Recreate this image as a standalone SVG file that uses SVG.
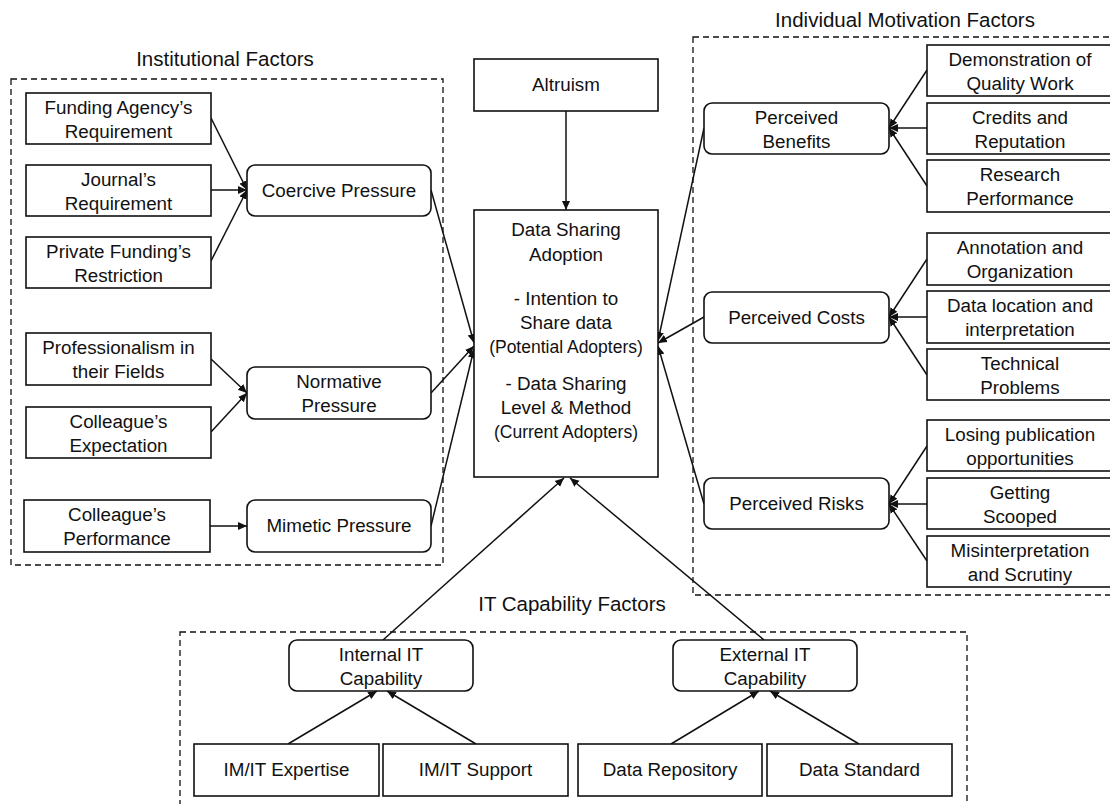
<svg xmlns="http://www.w3.org/2000/svg" width="1110" height="804" viewBox="0 0 1110 804">
<style>
text{font-family:"Liberation Sans",Arial,sans-serif;font-size:18.8px;fill:#111;text-anchor:middle}
.t{font-size:20.5px}
.s{font-size:17.5px}
.b{fill:#fff;stroke:#111;stroke-width:1.6}
.d{fill:none;stroke:#111;stroke-width:1.3;stroke-dasharray:6,4}
.c line{stroke:#111;stroke-width:1.5;marker-end:url(#ah)}
</style>
<defs>
<marker id="ah" markerUnits="userSpaceOnUse" markerWidth="10" markerHeight="10" refX="9" refY="5" orient="auto">
<path d="M0,1 L9,5 L0,9 Z" fill="#111"/>
</marker>
</defs>
<rect width="1110" height="804" fill="#fff"/>
<g id="groups">
<rect class="d" x="11" y="79" width="432" height="486"/>
<text class="t" x="225" y="66">Institutional Factors</text>
<rect class="d" x="693" y="37" width="430" height="558"/>
<text class="t" x="905" y="27">Individual Motivation Factors</text>
<rect class="d" x="180" y="632" width="787" height="190"/>
<text class="t" x="572" y="611">IT Capability Factors</text>
</g>
<g class="c" id="connectors">
<line x1="211" y1="118" x2="247" y2="190"/>
<line x1="211" y1="190" x2="247" y2="190"/>
<line x1="211" y1="261" x2="247" y2="190"/>
<line x1="211" y1="359" x2="247" y2="393"/>
<line x1="211" y1="432" x2="247" y2="393"/>
<line x1="210" y1="526" x2="247" y2="526"/>
<line x1="431" y1="190" x2="474" y2="343"/>
<line x1="431" y1="393" x2="474" y2="346"/>
<line x1="431" y1="526" x2="474" y2="349"/>
<line x1="566" y1="111" x2="566" y2="210"/>
<line x1="704" y1="128" x2="658" y2="341"/>
<line x1="704" y1="317" x2="658" y2="343"/>
<line x1="704" y1="504" x2="658" y2="346"/>
<line x1="927" y1="70" x2="889" y2="128"/>
<line x1="927" y1="128" x2="889" y2="128"/>
<line x1="927" y1="186" x2="889" y2="128"/>
<line x1="927" y1="259" x2="889" y2="317"/>
<line x1="927" y1="317" x2="889" y2="317"/>
<line x1="927" y1="375" x2="889" y2="317"/>
<line x1="927" y1="446" x2="889" y2="504"/>
<line x1="927" y1="504" x2="889" y2="504"/>
<line x1="927" y1="561" x2="889" y2="504"/>
<line x1="383" y1="640" x2="564" y2="478"/>
<line x1="764" y1="640" x2="570" y2="478"/>
<line x1="288" y1="744" x2="377" y2="691"/>
<line x1="476" y1="744" x2="387" y2="691"/>
<line x1="671" y1="744" x2="759" y2="691"/>
<line x1="859" y1="744" x2="770" y2="691"/>
</g>
<g id="n-funding"><rect class="b" x="26" y="93" width="185" height="51"/><text x="118.5" y="114">Funding Agency’s</text><text x="118.5" y="138">Requirement</text></g>
<g id="n-journal"><rect class="b" x="26" y="165" width="185" height="51"/><text x="118.5" y="186">Journal’s</text><text x="118.5" y="210">Requirement</text></g>
<g id="n-private"><rect class="b" x="26" y="237" width="185" height="51"/><text x="118.5" y="258">Private Funding’s</text><text x="118.5" y="282">Restriction</text></g>
<g id="n-prof"><rect class="b" x="26" y="333" width="185" height="52"/><text x="118.5" y="354">Professionalism in</text><text x="118.5" y="378">their Fields</text></g>
<g id="n-expect"><rect class="b" x="26" y="407" width="185" height="51"/><text x="118.5" y="428">Colleague’s</text><text x="118.5" y="452">Expectation</text></g>
<g id="n-perf"><rect class="b" x="24" y="500" width="186" height="52"/><text x="117" y="521">Colleague’s</text><text x="117" y="545">Performance</text></g>
<g id="n-coercive"><rect class="b" x="247" y="165" width="184" height="51" rx="8"/><text x="339" y="197">Coercive Pressure</text></g>
<g id="n-normative"><rect class="b" x="247" y="367" width="184" height="52" rx="8"/><text x="339" y="388">Normative</text><text x="339" y="412">Pressure</text></g>
<g id="n-mimetic"><rect class="b" x="247" y="500" width="184" height="52" rx="8"/><text x="339" y="532">Mimetic Pressure</text></g>
<g id="n-altruism"><rect class="b" x="474" y="59" width="184" height="52"/><text x="566" y="91">Altruism</text></g>
<g id="n-adoption"><rect class="b" x="474" y="210" width="184" height="267"/>
<text x="566" y="236">Data Sharing</text><text x="566" y="261">Adoption</text>
<text x="566" y="305">- Intention to</text><text x="566" y="329">Share data</text>
<text class="s" x="566" y="353">(Potential Adopters)</text>
<text x="566" y="390">- Data Sharing</text><text x="566" y="414">Level &amp; Method</text>
<text class="s" x="566" y="438">(Current Adopters)</text></g>
<g id="n-benefits"><rect class="b" x="704" y="103" width="185" height="51" rx="8"/><text x="796.5" y="124">Perceived</text><text x="796.5" y="148">Benefits</text></g>
<g id="n-costs"><rect class="b" x="704" y="292" width="185" height="51" rx="8"/><text x="796.5" y="324">Perceived Costs</text></g>
<g id="n-risks"><rect class="b" x="704" y="478" width="185" height="51" rx="8"/><text x="796.5" y="510">Perceived Risks</text></g>
<g id="n-demo"><rect class="b" x="927" y="45" width="186" height="51"/><text x="1020" y="66">Demonstration of</text><text x="1020" y="90">Quality Work</text></g>
<g id="n-credits"><rect class="b" x="927" y="103" width="186" height="51"/><text x="1020" y="124">Credits and</text><text x="1020" y="148">Reputation</text></g>
<g id="n-research"><rect class="b" x="927" y="160" width="186" height="52"/><text x="1020" y="181">Research</text><text x="1020" y="205">Performance</text></g>
<g id="n-annot"><rect class="b" x="927" y="233" width="186" height="52"/><text x="1020" y="254">Annotation and</text><text x="1020" y="278">Organization</text></g>
<g id="n-dataloc"><rect class="b" x="927" y="291" width="186" height="52"/><text x="1020" y="312">Data location and</text><text x="1020" y="336">interpretation</text></g>
<g id="n-tech"><rect class="b" x="927" y="349" width="186" height="51"/><text x="1020" y="370">Technical</text><text x="1020" y="394">Problems</text></g>
<g id="n-losing"><rect class="b" x="927" y="420" width="186" height="51"/><text x="1020" y="441">Losing publication</text><text x="1020" y="465">opportunities</text></g>
<g id="n-scooped"><rect class="b" x="927" y="478" width="186" height="51"/><text x="1020" y="499">Getting</text><text x="1020" y="523">Scooped</text></g>
<g id="n-misinterp"><rect class="b" x="927" y="536" width="186" height="51"/><text x="1020" y="557">Misinterpretation</text><text x="1020" y="581">and Scrutiny</text></g>
<g id="n-internal"><rect class="b" x="289" y="640" width="184" height="51" rx="8"/><text x="381" y="661">Internal IT</text><text x="381" y="685">Capability</text></g>
<g id="n-external"><rect class="b" x="673" y="640" width="184" height="51" rx="8"/><text x="765" y="661">External IT</text><text x="765" y="685">Capability</text></g>
<g id="n-expertise"><rect class="b" x="194" y="744" width="185" height="52"/><text x="286.5" y="776">IM/IT Expertise</text></g>
<g id="n-support"><rect class="b" x="383" y="744" width="185" height="52"/><text x="475.5" y="776">IM/IT Support</text></g>
<g id="n-repo"><rect class="b" x="578" y="744" width="184" height="52"/><text x="670" y="776">Data Repository</text></g>
<g id="n-standard"><rect class="b" x="767" y="744" width="185" height="52"/><text x="859.5" y="776">Data Standard</text></g>
</svg>
